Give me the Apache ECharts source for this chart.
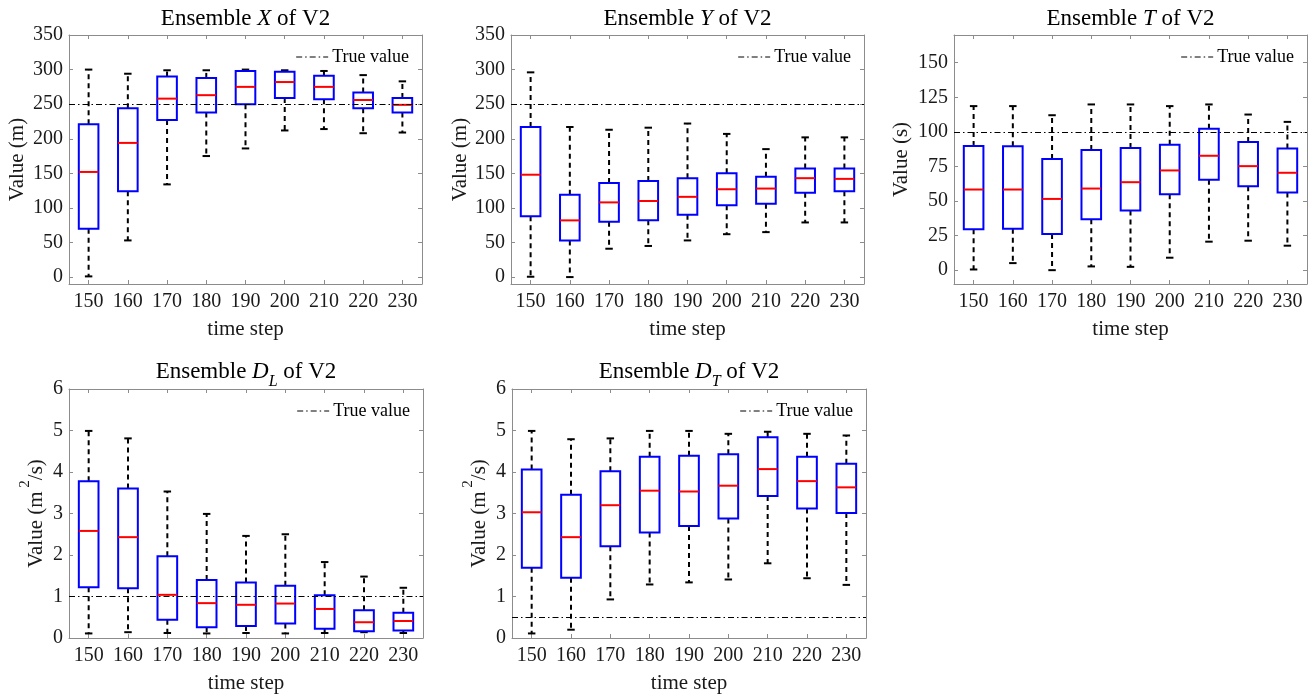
<!DOCTYPE html>
<html>
<head>
<meta charset="utf-8">
<script src="https://cdn.jsdelivr.net/npm/echarts@6/dist/echarts.min.js"></script>
<style>
html,body{margin:0;padding:0;background:#fff;}
#chart{width:1315px;height:697px;}
</style>
</head>
<body>
<div id="chart"></div>
<script>
// ---- data ----
const categories = ['150','160','170','180','190','200','210','220','230'];
// each row: [lower whisker, Q1, median, Q3, upper whisker]
const boxX = [
  [1, 70, 152, 221, 300],
  [53, 124, 194, 244, 294],
  [134, 227, 258, 290, 299],
  [175, 238, 263, 288, 299],
  [186, 250, 275, 298, 300],
  [212, 259, 282, 297, 299],
  [214, 257, 275, 291, 298],
  [208, 244, 256, 267, 292],
  [209, 238, 249, 259, 283]
];
const boxY = [
  [0.5, 88, 148, 217, 296],
  [0, 53, 82, 119, 217],
  [41, 80, 108, 136, 213],
  [45, 82, 110, 139, 216],
  [53, 90, 116, 143, 222],
  [62, 104, 127, 150, 207],
  [65, 106, 128, 145, 185],
  [79, 122, 143, 157, 202],
  [79, 124, 142, 157, 202]
];
const boxT = [
  [0.5, 29.5, 58.3, 89.8, 118.6],
  [5.1, 30, 58.3, 89.5, 118.6],
  [0, 26.1, 51.5, 80.3, 112],
  [2.7, 36.8, 59, 86.9, 119.8],
  [2.4, 43.1, 63.6, 88.3, 119.8],
  [9, 54.9, 72.1, 90.7, 118.6],
  [20.6, 65.3, 82.7, 102.3, 119.8],
  [21.3, 60.7, 75.2, 92.7, 112.5],
  [17.7, 56.1, 70.4, 88, 107.2]
];
const boxDL = [
  [0.11, 1.22, 2.58, 3.78, 4.99],
  [0.14, 1.2, 2.43, 3.6, 4.81],
  [0.12, 0.44, 1.04, 1.97, 3.53],
  [0.11, 0.26, 0.84, 1.4, 2.99],
  [0.12, 0.29, 0.8, 1.34, 2.46],
  [0.11, 0.35, 0.83, 1.26, 2.5],
  [0.12, 0.22, 0.7, 1.03, 1.83],
  [0.14, 0.16, 0.38, 0.67, 1.48],
  [0.12, 0.18, 0.41, 0.61, 1.21]
];
const boxDT = [
  [0.11, 1.69, 3.03, 4.06, 4.99],
  [0.2, 1.45, 2.43, 3.45, 4.79],
  [0.93, 2.21, 3.2, 4.02, 4.81],
  [1.29, 2.54, 3.55, 4.37, 4.99],
  [1.34, 2.7, 3.53, 4.39, 4.99],
  [1.41, 2.88, 3.67, 4.43, 4.92],
  [1.8, 3.42, 4.07, 4.84, 4.97],
  [1.44, 3.12, 3.78, 4.37, 4.92],
  [1.28, 3.01, 3.63, 4.2, 4.88]
];
const trueValues = [250, 250, 100, 1, 0.5];
const ticksXY = [0, 50, 100, 150, 200, 250, 300, 350];
const ticksT = [0, 25, 50, 75, 100, 125, 150];
const ticksD = [0, 1, 2, 3, 4, 5, 6];
const yRanges = [[-10, 350], [-10, 350], [-10, 170], [0, 6], [0, 6]];

// ---- layout / style ----
const FONT = 'Liberation Serif';
const AXIS_GRAY = '#8c8c8c';
const TXT = '#1a1a1a';
const grids = [
  {left: 69, top: 35, width: 353, height: 249, titleTop: 7},
  {left: 511, top: 35, width: 353, height: 249, titleTop: 7},
  {left: 954, top: 35, width: 353, height: 249, titleTop: 7},
  {left: 69, top: 389, width: 354, height: 249, titleTop: 360},
  {left: 512, top: 389, width: 354, height: 249, titleTop: 360}
];
const boxes = [boxX, boxY, boxT, boxDL, boxDT];
const tickSets = [ticksXY, ticksXY, ticksT, ticksD, ticksD];

const titleRich = {
  i: {fontFamily: FONT, fontSize: 23, fontStyle: 'italic', color: '#000', lineHeight: 30, verticalAlign: 'top'},
  n: {fontFamily: FONT, fontSize: 23, color: '#000', lineHeight: 30, verticalAlign: 'top'},
  sub: {fontFamily: FONT, fontSize: 16, fontStyle: 'italic', color: '#000', verticalAlign: 'bottom'}
};
const titles = [
  '{n|Ensemble }{i|X}{n| of V2}',
  '{n|Ensemble }{i|Y}{n| of V2}',
  '{n|Ensemble }{i|T}{n| of V2}',
  '{n|Ensemble }{i|D}{sub|L}{n| of V2}',
  '{n|Ensemble }{i|D}{sub|T}{n| of V2}'
];
const yNames = [
  'Value (m)', 'Value (m)', 'Value (s)',
  '{a|Value (m}{sup| 2}{a|/s)}', '{a|Value (m}{sup| 2}{a|/s)}'
];
const yNameGaps = [41, 40, 42, 22, 22];

const option = {
  backgroundColor: '#fff',
  animation: false,
  title: [], grid: [], xAxis: [], yAxis: [], series: [], legend: []
};

grids.forEach((g, k) => {
  option.grid.push({left: g.left, top: g.top, width: g.width, height: g.height, containLabel: false});
  option.title.push({
    text: titles[k],
    left: g.left + g.width / 2,
    textAlign: 'center',
    top: g.titleTop,
    padding: 0,
    textStyle: {fontFamily: FONT, fontSize: 23, fontWeight: 'normal', color: '#000', rich: titleRich}
  });
  const axBase = {
    gridIndex: k,
    axisLine: {show: true, onZero: false, lineStyle: {color: AXIS_GRAY, width: 1}},
    splitLine: {show: false}
  };
  // bottom x
  option.xAxis.push(Object.assign({}, axBase, {
    type: 'category', data: categories, position: 'bottom', boundaryGap: true,
    axisTick: {show: true, inside: true, length: 4, alignWithLabel: true, lineStyle: {color: AXIS_GRAY}},
    axisLabel: {show: true, margin: 8, fontFamily: FONT, fontSize: 20, color: TXT, interval: 0},
    name: 'time step', nameLocation: 'middle', nameGap: 35,
    nameTextStyle: {fontFamily: FONT, fontSize: 21, color: TXT}
  }));
  // top x
  option.xAxis.push(Object.assign({}, axBase, {
    type: 'category', data: categories, position: 'top', boundaryGap: true,
    axisTick: {show: true, inside: true, length: 4, alignWithLabel: true, lineStyle: {color: AXIS_GRAY}},
    axisLabel: {show: false}
  }));
  const ticks = tickSets[k];
  // left y
  option.yAxis.push(Object.assign({}, axBase, {
    type: 'value', position: 'left', min: yRanges[k][0], max: yRanges[k][1],
    axisTick: {show: true, inside: true, length: 4, customValues: ticks, lineStyle: {color: AXIS_GRAY}},
    axisLabel: {show: true, margin: 6, customValues: ticks, fontFamily: FONT, fontSize: 20, color: TXT},
    name: yNames[k], nameLocation: 'middle', nameGap: yNameGaps[k],
    nameTextStyle: {fontFamily: FONT, fontSize: 21, color: TXT,
      rich: {
        a: {fontFamily: FONT, fontSize: 21, color: TXT, lineHeight: 29, verticalAlign: 'bottom'},
        sup: {fontFamily: FONT, fontSize: 15, color: TXT, verticalAlign: 'top'}
      }}
  }));
  // right y
  option.yAxis.push(Object.assign({}, axBase, {
    type: 'value', position: 'right', min: yRanges[k][0], max: yRanges[k][1],
    axisTick: {show: true, inside: true, length: 4, customValues: ticks, lineStyle: {color: AXIS_GRAY}},
    axisLabel: {show: false, customValues: ticks}
  }));

  const data = boxes[k].map((b, i) => [i, b[0], b[1], b[2], b[3], b[4]]);
  option.series.push({
    type: 'custom',
    name: 'box' + k,
    xAxisIndex: 2 * k, yAxisIndex: 2 * k,
    encode: {x: 0, y: [1, 2, 3, 4, 5]},
    data: data,
    silent: true,
    z: 2,
    renderItem: function (params, api) {
      const ci = api.value(0);
      const pLow = api.coord([ci, api.value(1)]);
      const pQ1 = api.coord([ci, api.value(2)]);
      const pMed = api.coord([ci, api.value(3)]);
      const pQ3 = api.coord([ci, api.value(4)]);
      const pHigh = api.coord([ci, api.value(5)]);
      const band = api.size([1, 0])[0];
      const hw = band * 0.25;
      const cw = band * 0.095;
      const x = pMed[0];
      const wStyle = {stroke: '#000', lineWidth: 2, lineDash: [5, 4], fill: null};
      const cStyle = {stroke: '#000', lineWidth: 2, fill: null};
      return {
        type: 'group',
        children: [
          {type: 'line', shape: {x1: x, y1: pQ3[1], x2: x, y2: pHigh[1]}, style: wStyle},
          {type: 'line', shape: {x1: x, y1: pQ1[1], x2: x, y2: pLow[1]}, style: wStyle},
          {type: 'line', shape: {x1: x - cw, y1: pHigh[1], x2: x + cw, y2: pHigh[1]}, style: cStyle},
          {type: 'line', shape: {x1: x - cw, y1: pLow[1], x2: x + cw, y2: pLow[1]}, style: cStyle},
          {type: 'rect', shape: {x: x - hw, y: pQ3[1], width: 2 * hw, height: pQ1[1] - pQ3[1]},
           style: {stroke: '#0000ff', lineWidth: 2, fill: null}},
          {type: 'line', shape: {x1: x - hw, y1: pMed[1], x2: x + hw, y2: pMed[1]},
           style: {stroke: '#ff0000', lineWidth: 2}}
        ]
      };
    }
  });
  const dashDot = [6, 3, 1.5, 3];
  option.series.push({
    type: 'line',
    name: 'True value',
    xAxisIndex: 2 * k, yAxisIndex: 2 * k,
    data: [],
    symbol: 'none',
    showSymbol: false,
    color: '#000',
    lineStyle: {color: '#000', width: 1, type: dashDot},
    z: 3,
    markLine: {
      silent: true,
      symbol: ['none', 'none'],
      label: {show: false},
      lineStyle: {color: '#000', width: 1, type: dashDot},
      emphasis: {disabled: true},
      data: [{yAxis: trueValues[k]}]
    }
  });
  option.legend.push({
    data: ['True value'],
    right: 1315 - (g.left + g.width) + 13,
    top: g.top + 13,
    padding: 0,
    itemWidth: 32,
    itemHeight: 12,
    itemGap: 4,
    selectedMode: false,
    lineStyle: {color: '#000', width: 1, type: dashDot},
    itemStyle: {color: 'rgba(0,0,0,0)', borderWidth: 0, opacity: 0},
    textStyle: {fontFamily: FONT, fontSize: 18, color: '#000', padding: [0, 0, 0, -1]}
  });
});

const chart = echarts.init(document.getElementById('chart'), null, {renderer: 'canvas'});
chart.setOption(option);
</script>
</body>
</html>
